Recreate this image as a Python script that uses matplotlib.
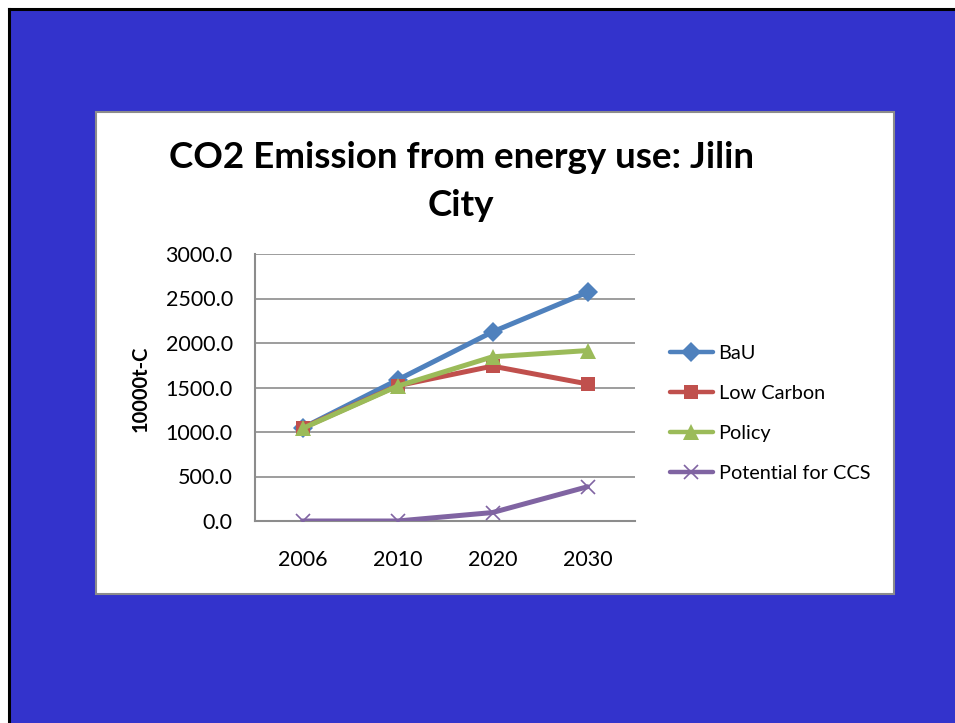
import matplotlib
matplotlib.use("Agg")
import matplotlib.pyplot as plt
from matplotlib.patches import Rectangle
from matplotlib.lines import Line2D

plt.rcParams['font.family'] = ['Lato', 'DejaVu Sans']

# Data
years = ["2006", "2010", "2020", "2030"]
bau = [1045, 1585, 2125, 2570]
low_carbon = [1045, 1520, 1740, 1540]
policy = [1040, 1515, 1845, 1915]
ccs = [0, 0, 95, 385]
series_names = ["BaU", "Low Carbon", "Policy", "Potential for CCS"]
y_ticks = [0, 500, 1000, 1500, 2000, 2500, 3000]

W, H = 955, 723
fig = plt.figure(figsize=(W / 100, H / 100), dpi=100)
fig.patch.set_facecolor("white")

def fx(px):
    return px / W

def fy(py):
    return 1 - py / H

# blue slide background with a dark frame on the top and left edges
fig.add_artist(Rectangle((fx(8), -0.05), 1.1 - fx(8), fy(8) + 0.05,
                         facecolor="#3333CC", edgecolor="none",
                         transform=fig.transFigure, zorder=0))
fig.add_artist(Line2D([fx(8.5), fx(8.5)], [fy(8.5), -0.05], color="black",
                      lw=2.2))
fig.add_artist(Line2D([fx(8.5), 1.05], [fy(8.5), fy(8.5)], color="black",
                      lw=2.2))

# white chart panel
fig.add_artist(Rectangle((fx(96), fy(594)), fx(894) - fx(96), fy(112) - fy(594),
                         facecolor="white", edgecolor="#8C8C8C", lw=1.5,
                         transform=fig.transFigure, zorder=1))

ax = fig.add_axes([fx(255), fy(521), fx(635) - fx(255), fy(254) - fy(521)])
ax.set_facecolor("white")
ax.set_zorder(2)

x = range(len(years))
styles = [
    (bau, "#4F81BD", "D", 10),
    (low_carbon, "#C0504D", "s", 10),
    (policy, "#9BBB59", "^", 11),
    (ccs, "#8064A2", "x", 10),
]
handles = []
for (vals, col, mk, ms), name in zip(styles, series_names):
    kw = dict(markeredgewidth=1.2) if mk == "x" else dict(markeredgewidth=0)
    h, = ax.plot(list(x), vals, color=col, lw=3.6, marker=mk, markersize=ms,
                 markerfacecolor=col, markeredgecolor=col, label=name,
                 solid_capstyle="round", solid_joinstyle="round", zorder=3, **kw)
    handles.append(h)

ax.set_xlim(-0.5, 3.5)
ax.set_ylim(0, 3000)
ax.set_yticks(y_ticks)
ax.set_yticklabels([f"{v:.1f}" for v in y_ticks])
ax.set_xticks(list(x))
ax.set_xticklabels(years)
ax.grid(axis="y", color="#8C8C8C", lw=1.2)
ax.set_axisbelow(True)
for s in ["top", "right"]:
    ax.spines[s].set_visible(False)
for s in ["left", "bottom"]:
    ax.spines[s].set_color("#8C8C8C")
    ax.spines[s].set_linewidth(1.5)
ax.tick_params(axis="both", length=0, labelsize=15.5, colors="black")
ax.tick_params(axis="y", pad=16)
ax.tick_params(axis="x", pad=21)

fig.text(fx(141), fy(389), "10000t-C", rotation=90, ha="center", va="center",
         fontsize=14.5, fontweight="bold")

fig.text(fx(461), fy(157), "CO2 Emission from energy use: Jilin", ha="center",
         va="center", fontsize=26.5, fontweight="bold")
fig.text(fx(461), fy(205), "City", ha="center", va="center",
         fontsize=26.5, fontweight="bold")

leg = fig.legend(handles=handles, loc="upper left",
                 bbox_to_anchor=(fx(660), fy(335)), frameon=False,
                 fontsize=14.3, handlelength=2.15, labelspacing=1.16,
                 handletextpad=0.3, borderpad=0)
for ln in leg.get_lines():
    ln.set_linewidth(3.2)

fig.savefig("out.png", dpi=100, facecolor=fig.get_facecolor())
